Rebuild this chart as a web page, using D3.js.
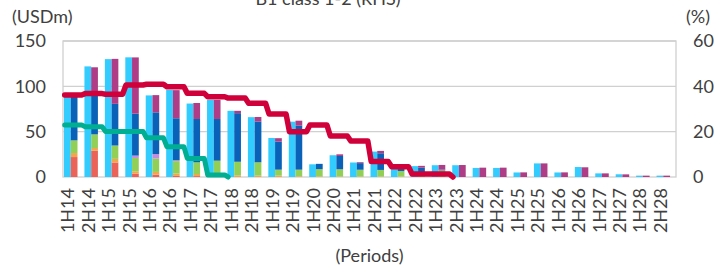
<!DOCTYPE html>
<html>
<head>
<meta charset="utf-8">
<script src="https://cdn.jsdelivr.net/npm/d3@7"></script>
<style>
  body { margin: 0; background: #fff; }
  svg { display: block; font-family: Lato, "Open Sans", sans-serif; }
</style>
</head>
<body>
<div id="chart"></div>
<script>
// Periods
const categories = ["1H14","2H14","1H15","2H15","1H16","2H16","1H17","2H17","1H18","2H18",
                    "1H19","2H19","1H20","2H20","1H21","2H21","1H22","2H22","1H23","2H23",
                    "1H24","2H24","1H25","2H25","1H26","2H26","1H27","2H27","1H28","2H28"];

// Total (cyan bar, LHS, USDm)
const totalValues = [92,122,130,132,90,96,81,85,73,66, 43,61,14,24,16,28,11,12,13,13, 10,10,5,15,5,11,4,3,1.5,1.5];

// Breakdown (stacked bar, LHS, USDm), bottom to top
const redValues     = [22,29,16,3.7,2.6,1.2,1,0,0,0, 0,0,0,0,0,0,0,0,0,0, 0,0,0,0,0,0,0,0,0,0];
const orangeValues  = [4.4,3,4,2.6,3,2.6,2.3,1.5,1.8,1.5, 1.5,0.8,0.6,0.5,0.5,0.5,0.5,0.3,0.3,0, 0,0,0,0,0,0,0,0,0,0];
const greenValues   = [14,15,14.7,14.7,14.7,13.7,12.9,16.5,15,14.7, 6.6,7.3,8,8,7.5,7.3,6,5,7,0, 0,0,0,0,0,0,0,0,0,0];
const purpleValues  = [0,0,0,2.6,5,1,0,0,0,0, 0,0,0,0,0,0,0,0,0,0, 0,0,0,0,0,0,0,0,0,0];
const blueValues    = [48,43,46,46.3,46,46.3,47.8,46,53.6,45, 31,48.5,5.9,14.7,7.3,18.4,3,5,1,0, 0,0,0,0,0,0,0,0,0,0];
const magentaValues = [3.6,31,49.6,62,19,31,17.6,21,2.6,5, 3.7,5.5,0,1.8,1,2.6,1.5,2,5,13.2, 10.3,10.3,5.1,15,5.1,10.7,4,2.9,1.5,1.5];

// Ratios (RHS, %); the last value of each line only draws its first point
const redLineValues  = [36.2,36.8,36.5,40.6,40.9,39.8,36.9,35.4,34.8,32.5, 27.8,20,22.9,18.1,15.9,6.8,4.5,1.3,1.3,0];
const tealLineValues = [22.9,22.2,20.1,20.1,17.3,13.4,8.2,0.9,0];

const leftTicks = [0, 50, 100, 150];
const rightTicks = [0, 20, 40, 60];

const width = 714, height = 266;
const plot = { left: 63, right: 676, top: 41, bottom: 177 };

const svg = d3.select("#chart").append("svg")
    .attr("width", width)
    .attr("height", height);

const x = d3.scaleBand()
    .domain(categories)
    .range([plot.left, plot.right])
    .paddingInner(0)
    .paddingOuter(0);

const yLeft = d3.scaleLinear().domain([0, 150]).range([plot.bottom, plot.top]);
const yRight = d3.scaleLinear().domain([0, 60]).range([plot.bottom, plot.top]);

const bw = x.bandwidth();
const barW = bw * 0.33;
const textColor = "#404040";

// Gridlines
svg.append("g")
    .selectAll("line")
    .data(leftTicks.filter(d => d > 0))
    .join("line")
    .attr("x1", plot.left)
    .attr("x2", plot.right)
    .attr("y1", d => yLeft(d))
    .attr("y2", d => yLeft(d))
    .attr("stroke", "#d0d0d0")
    .attr("stroke-width", 1.3);

// Plot border
svg.append("rect")
    .attr("x", plot.left)
    .attr("y", plot.top)
    .attr("width", plot.right - plot.left)
    .attr("height", plot.bottom - plot.top)
    .attr("fill", "none")
    .attr("stroke", "#d0d0d0")
    .attr("stroke-width", 1.3);

// Cyan total bars
svg.append("g")
    .selectAll("rect")
    .data(categories)
    .join("rect")
    .attr("x", d => x(d) + 1)
    .attr("y", (d, i) => yLeft(totalValues[i]))
    .attr("width", barW)
    .attr("height", (d, i) => yLeft(0) - yLeft(totalValues[i]))
    .attr("fill", "#33ccff");

// Stacked breakdown bars
const stackKeys = ["red", "orange", "green", "purple", "blue", "magenta"];
const stackColors = {
    red: "#eb6258",
    orange: "#f2a54c",
    green: "#92cf56",
    purple: "#c48be0",
    blue: "#0a62b8",
    magenta: "#ae3c86"
};
const stackSeries = {
    red: redValues,
    orange: orangeValues,
    green: greenValues,
    purple: purpleValues,
    blue: blueValues,
    magenta: magentaValues
};
const rows = categories.map((c, i) => {
    const row = { cat: c };
    stackKeys.forEach(k => { row[k] = stackSeries[k][i]; });
    return row;
});
const stacked = d3.stack().keys(stackKeys)(rows);

svg.append("g")
    .selectAll("g")
    .data(stacked)
    .join("g")
    .attr("fill", d => stackColors[d.key])
    .selectAll("rect")
    .data(d => d)
    .join("rect")
    .attr("x", d => x(d.data.cat) + 1 + barW)
    .attr("y", d => yLeft(d[1]))
    .attr("width", barW)
    .attr("height", d => Math.max(0, yLeft(d[0]) - yLeft(d[1])));

// Half-year ratio lines, drawn flat across each period (monthly points)
function stepPoints(values) {
    const pts = [];
    values.forEach((v, i) => {
        const months = i === values.length - 1 ? 1 : 6;
        for (let m = 0; m < months; m++) {
            pts.push([x(categories[i]) + bw * (m + 0.5) / 6, yRight(v)]);
        }
    });
    return pts;
}

const line = d3.line();

svg.append("path")
    .attr("d", line(stepPoints(tealLineValues)))
    .attr("fill", "none")
    .attr("stroke", "#00ae92")
    .attr("stroke-width", 5)
    .attr("stroke-linejoin", "round")
    .attr("stroke-linecap", "round");

svg.append("path")
    .attr("d", line(stepPoints(redLineValues)))
    .attr("fill", "none")
    .attr("stroke", "#d0003a")
    .attr("stroke-width", 5.5)
    .attr("stroke-linejoin", "round")
    .attr("stroke-linecap", "round");

// Left axis labels
svg.append("g")
    .selectAll("text")
    .data(leftTicks)
    .join("text")
    .attr("x", 46)
    .attr("y", d => yLeft(d))
    .attr("dy", "0.35em")
    .attr("text-anchor", "end")
    .attr("font-size", 18)
    .attr("fill", textColor)
    .text(d => d);

// Right axis labels
svg.append("g")
    .selectAll("text")
    .data(rightTicks)
    .join("text")
    .attr("x", 693)
    .attr("y", d => yRight(d))
    .attr("dy", "0.35em")
    .attr("text-anchor", "start")
    .attr("font-size", 18)
    .attr("fill", textColor)
    .text(d => d);

// Category labels (rotated)
svg.append("g")
    .selectAll("text")
    .data(categories)
    .join("text")
    .attr("transform", d => `translate(${x(d) + 5},188) rotate(-90)`)
    .attr("dy", "0.35em")
    .attr("text-anchor", "end")
    .attr("font-size", 18)
    .attr("fill", textColor)
    .text(d => d);

// Axis titles
svg.append("text")
    .attr("x", 12)
    .attr("y", 23)
    .attr("font-size", 18)
    .attr("fill", textColor)
    .text("(USDm)");

svg.append("text")
    .attr("x", 686)
    .attr("y", 23)
    .attr("font-size", 18)
    .attr("fill", textColor)
    .text("(%)");

svg.append("text")
    .attr("x", (plot.left + plot.right) / 2)
    .attr("y", 262)
    .attr("text-anchor", "middle")
    .attr("font-size", 18)
    .attr("fill", textColor)
    .text("(Periods)");

// Legend entry cut off at the top edge
svg.append("text")
    .attr("x", 328)
    .attr("y", 5)
    .attr("text-anchor", "middle")
    .attr("font-size", 18)
    .attr("fill", textColor)
    .text("B1 class 1-2 (RHS)");
</script>
</body>
</html>
